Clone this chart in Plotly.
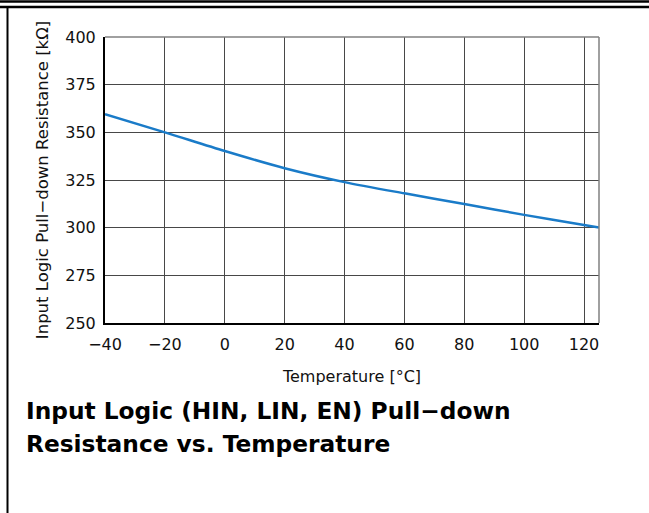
import plotly.graph_objects as go

# ---- data ----
temperature_c = [-40, -20, 0, 20, 40, 60, 80, 100, 120, 125]
resistance_kohm = [359.5, 350.0, 340.2, 331.2, 323.9, 318.0, 312.4, 306.7, 301.4, 300.1]
x_ticks = [-40, -20, 0, 20, 40, 60, 80, 100, 120]
y_ticks = [250, 275, 300, 325, 350, 375, 400]
caption_lines = ["Input Logic (HIN, LIN, EN) Pull\u2212down", "Resistance vs. Temperature"]
x_title = "Temperature [\u00b0C]"
y_title = "Input Logic Pull\u2212down Resistance [k\u03a9]"

# ---- layout constants (pixels) ----
W, H = 649, 513
L, R, T, B = 105, 50, 37, 190
PW, PH = W - L - R, H - T - B
FONT = "DejaVu Sans"


def px(xp):
    return (xp - L) / PW


def py(yp):
    return (H - B - yp) / PH


fig = go.Figure()
fig.add_trace(go.Scatter(
    x=temperature_c, y=resistance_kohm, mode="lines",
    line=dict(color="#1a7bc8", width=2.5, shape="spline", smoothing=0.8),
    hoverinfo="skip", showlegend=False,
))

axis_common = dict(
    showgrid=True, gridcolor="#484848", gridwidth=1.4,
    zeroline=False, showline=True, linecolor="#000000", linewidth=2,
    ticks="", tickfont=dict(family=FONT, size=16, color="#111111"),
)

fig.update_xaxes(
    range=[-40, 125], tickvals=x_ticks, ticktext=[str(v).replace("-", "\u2212") for v in x_ticks],
    ticklabelstandoff=6,
    title=dict(text=x_title, font=dict(family=FONT, size=16, color="#111111"), standoff=18),
    **axis_common,
)
fig.update_yaxes(
    range=[250, 400], tickvals=y_ticks,
    ticklabelstandoff=4,
    title=dict(text=y_title, font=dict(family=FONT, size=16.5, color="#111111"), standoff=12),
    **axis_common,
)

shapes = [
    # gray top/right plot border
    dict(type="line", xref="paper", yref="paper", x0=0, x1=1, y0=1, y1=1,
         line=dict(color="#808080", width=1.5)),
    dict(type="line", xref="paper", yref="paper", x0=1, x1=1, y0=0, y1=1,
         line=dict(color="#808080", width=1.5)),
    # page frame: double top rule and left rule
    dict(type="line", xref="paper", yref="paper", x0=px(0), x1=px(W), y0=py(1.5), y1=py(1.5),
         line=dict(color="#000000", width=2.5)),
    dict(type="line", xref="paper", yref="paper", x0=px(0), x1=px(W), y0=py(7), y1=py(7),
         line=dict(color="#000000", width=2.5)),
    dict(type="line", xref="paper", yref="paper", x0=px(7.5), x1=px(7.5), y0=py(7), y1=py(H),
         line=dict(color="#000000", width=2)),
]

annotations = []
for i, (line_text, ycen) in enumerate(zip(caption_lines, [410, 443])):
    annotations.append(dict(
        text="<b>" + line_text + "</b>", xref="paper", yref="paper",
        x=px(24), y=py(ycen), xanchor="left", yanchor="middle", showarrow=False,
        font=dict(family=FONT, size=23.3, color="#000000"),
    ))

fig.update_layout(
    width=W, height=H, autosize=False,
    margin=dict(l=L, r=R, t=T, b=B),
    paper_bgcolor="#ffffff", plot_bgcolor="#ffffff",
    shapes=shapes, annotations=annotations,
    font=dict(family=FONT),
)

fig.write_html("out.html", config={"displayModeBar": False})
